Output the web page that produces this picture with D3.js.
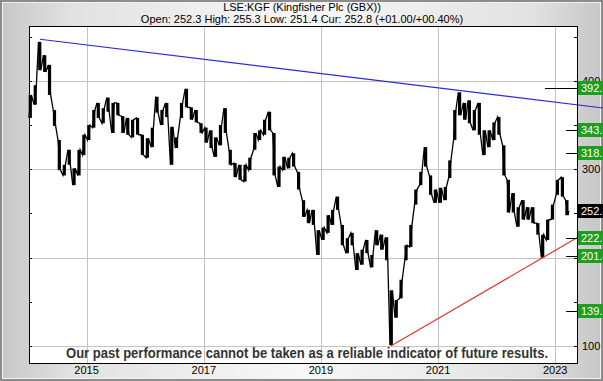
<!DOCTYPE html>
<html lang="en">
<head>
<meta charset="UTF-8">
<title>LSE:KGF (Kingfisher Plc (GBX))</title>
<script src="https://d3js.org/d3.v7.min.js"></script>
<style>
    body {
        margin: 0;
        padding: 0;
        overflow: hidden;
        background: #fff;
    }
    svg {
        display: block;
        font-family: "Liberation Sans", Arial, sans-serif;
    }
    .grid line {
        stroke: #c4c4c4;
        stroke-width: 1px;
        shape-rendering: crispEdges;
    }
    .lbl {
        font-size: 11px;
    }
</style>
</head>
<body>
<svg id="chart" width="603" height="381"></svg>
<script>
    // monthly high / low of the share price (GBX), first month Jan 2014
    var startMonth = '2014-01-15';
    var monthHigh = [384, 395, 444, 429, 418, 367, 333, 305, 322, 301, 322, 339,
                     350, 367, 375, 369, 381, 375, 375, 360, 358, 356, 358, 339,
                     335, 347, 382, 367, 375, 348, 336, 375, 391, 370, 367, 352,
                     347, 344, 336, 350, 369, 322, 307, 305, 305, 313, 341, 344,
                     356, 365, 341, 303, 314, 313, 318, 297, 265, 254, 254, 231,
                     234, 248, 254, 269, 237, 222, 228, 205, 209, 220, 203, 231,
                     226, 223, 163, 152, 175, 214, 237, 277, 297, 325, 293, 277,
                     279, 280, 310, 367, 387, 375, 378, 367, 375, 344, 344, 353,
                     359, 327, 288, 273, 257, 265, 257, 257, 239, 226, 243, 260,
                     288, 291, 265];
    var monthLow = [358, 373, 412, 410, 384, 349, 299, 293, 305, 282, 293, 316,
                    333, 347, 358, 352, 365, 341, 361, 341, 339, 336, 339, 316,
                    313, 325, 364, 350, 359, 305, 324, 358, 370, 356, 353, 341,
                    330, 324, 314, 327, 341, 305, 291, 288, 286, 299, 322, 333,
                    339, 344, 293, 280, 299, 301, 303, 277, 246, 239, 237, 203,
                    220, 228, 237, 254, 214, 205, 214, 186, 192, 205, 189, 214,
                    209, 197, 101, 132, 154, 197, 212, 260, 282, 303, 271, 262,
                    262, 265, 290, 333, 361, 356, 352, 344, 339, 316, 325, 333,
                    339, 293, 251, 251, 235, 243, 243, 239, 226, 200, 220, 243,
                    271, 269, 248];
    var lastDate = '2023-03-27';
    var lastClose = 252.8;

    var yearTicks = ['2015', '2017', '2019', '2021', '2023'];
    var valueTicks = [100, 200, 300, 400];
    var shownValueLabels = [100, 300, 400];
    var minorTicks = [100, 150, 200, 250, 300, 350, 400, 450];

    // price levels marked on the right hand side
    var levels = [392.1, 343.8, 318.1, 252.8, 222.5, 201.4, 139.1];
    var levelIsCurrent = [false, false, false, true, false, false, false];

    // trend lines: [date, value] anchors
    var resistance = [['2014-03-16', 447], ['2021-05-16', 389]];
    var support = [['2020-03-12', 100], ['2023-05-17', 222.5]];

    var title = 'LSE:KGF (Kingfisher Plc (GBX))';
    var subtitle = 'Open: 252.3 High: 255.3 Low: 251.4 Cur: 252.8 (+01.00/+00.40%)';
    var disclaimer = 'Our past performance cannot be taken as a reliable indicator of future results.';

    var W = 603, H = 381;
    var plot = { left: 29, right: 577, top: 26, bottom: 363 };
    var parse = d3.timeParse('%Y-%m-%d');

    var svg = d3.select('#chart');
    var defs = svg.append('defs');

    // silver frame
    var g1 = defs.append('linearGradient').attr('id', 'frameH').attr('x1', 0).attr('x2', 1).attr('y1', 0).attr('y2', 0);
    g1.append('stop').attr('offset', 0).attr('stop-color', '#c6c6c6');
    g1.append('stop').attr('offset', 0.12).attr('stop-color', '#e2e2e2');
    g1.append('stop').attr('offset', 0.5).attr('stop-color', '#f8f8f8');
    g1.append('stop').attr('offset', 0.88).attr('stop-color', '#e2e2e2');
    g1.append('stop').attr('offset', 1).attr('stop-color', '#c6c6c6');

    svg.append('rect').attr('x', 0).attr('y', 0).attr('width', W).attr('height', H)
        .attr('fill', 'url(#frameH)');
    svg.append('rect').attr('x', 1).attr('y', 1).attr('width', W - 2).attr('height', H - 2)
        .attr('fill', 'none').attr('stroke', '#8c8c8c').attr('stroke-width', 2);
    svg.append('rect').attr('x', 2.5).attr('y', 2.5).attr('width', W - 5).attr('height', H - 5)
        .attr('fill', 'none').attr('stroke', '#f2f2f2').attr('stroke-width', 1);

    // scales
    var x = d3.scaleTime()
        .domain([parse('2014-01-07'), parse('2023-05-17')])
        .range([plot.left, plot.right]);
    var y = d3.scaleLinear()
        .domain([80.8, 462])
        .range([plot.bottom, plot.top]);

    svg.append('rect')
        .attr('x', plot.left).attr('y', plot.top)
        .attr('width', plot.right - plot.left).attr('height', plot.bottom - plot.top)
        .attr('fill', '#fff');

    // grid
    var grid = svg.append('g').attr('class', 'grid');
    grid.selectAll('.vx').data(yearTicks).enter().append('line')
        .attr('x1', function(d) { return Math.round(x(parse(d + '-01-01'))) + 0.5; })
        .attr('x2', function(d) { return Math.round(x(parse(d + '-01-01'))) + 0.5; })
        .attr('y1', plot.top).attr('y2', plot.bottom);
    grid.selectAll('.hy').data(valueTicks).enter().append('line')
        .attr('x1', plot.left).attr('x2', plot.right)
        .attr('y1', function(d) { return Math.round(y(d)) + 0.5; })
        .attr('y2', function(d) { return Math.round(y(d)) + 0.5; });

    // price trace: monthly range strokes joined by a zigzag through high/low
    var months = monthHigh.map(function(d, i) { return d3.timeMonth.offset(parse(startMonth), i); });
    var bars = months.map(function(d, i) { return { date: d, hi: monthHigh[i], lo: monthLow[i] }; });

    var pts = [];
    bars.forEach(function(b, i) {
        var mid = (b.hi + b.lo) / 2;
        var next = i < bars.length - 1 ? (bars[i + 1].hi + bars[i + 1].lo) / 2 : lastClose;
        var up = next >= mid;
        pts.push([d3.timeDay.offset(b.date, -8), up ? b.lo : b.hi]);
        pts.push([d3.timeDay.offset(b.date, 7), up ? b.hi : b.lo]);
    });
    pts.push([parse(lastDate), lastClose]);

    var trace = svg.append('g');
    trace.selectAll('.rb').data(bars).enter().append('line')
        .attr('x1', function(d) { return x(d.date); })
        .attr('x2', function(d) { return x(d.date); })
        .attr('y1', function(d) { return y(d.hi); })
        .attr('y2', function(d) { return y(d.lo); })
        .attr('stroke', '#000')
        .attr('stroke-width', 3.2);

    var line = d3.line()
        .x(function(d) { return x(d[0]); })
        .y(function(d) { return y(d[1]); });
    trace.append('path').datum(pts)
        .attr('d', line)
        .attr('fill', 'none')
        .attr('stroke', '#000')
        .attr('stroke-width', 1.3)
        .attr('stroke-linejoin', 'miter');

    // trend lines
    var r0 = parse(resistance[0][0]), r1 = parse(resistance[1][0]);
    var rEnd = x.invert(W);
    var rEndVal = resistance[0][1] + (resistance[1][1] - resistance[0][1]) * (rEnd - r0) / (r1 - r0);
    svg.append('line')
        .attr('x1', x(r0)).attr('y1', y(resistance[0][1]))
        .attr('x2', x(rEnd)).attr('y2', y(rEndVal))
        .attr('stroke', '#2b2bd6').attr('stroke-width', 1.2);

    svg.append('line')
        .attr('x1', x(parse(support[0][0]))).attr('y1', y(support[0][1]))
        .attr('x2', x(parse(support[1][0]))).attr('y2', y(support[1][1]))
        .attr('stroke', '#e4362e').attr('stroke-width', 1.2);

    // plot border
    svg.append('rect')
        .attr('x', plot.left + 0.5).attr('y', plot.top + 0.5)
        .attr('width', plot.right - plot.left).attr('height', plot.bottom - plot.top)
        .attr('fill', 'none').attr('stroke', '#000').attr('stroke-width', 1)
        .attr('shape-rendering', 'crispEdges');

    // small inward ticks on both value axes
    svg.selectAll('.tl').data(minorTicks).enter().append('line')
        .attr('x1', plot.left).attr('x2', plot.left + 3)
        .attr('y1', function(d) { return Math.round(y(d)) + 0.5; })
        .attr('y2', function(d) { return Math.round(y(d)) + 0.5; })
        .attr('stroke', '#000');
    svg.selectAll('.tr').data(minorTicks).enter().append('line')
        .attr('x1', plot.right - 3).attr('x2', plot.right + 1)
        .attr('y1', function(d) { return Math.round(y(d)) + 0.5; })
        .attr('y2', function(d) { return Math.round(y(d)) + 0.5; })
        .attr('stroke', '#000');

    // value axis labels (200 sits under the 201.4 tag in the original)
    svg.selectAll('.vl').data(shownValueLabels).enter().append('text')
        .attr('class', 'lbl')
        .attr('x', plot.right + 5)
        .attr('y', function(d) { return y(d) + 4; })
        .text(function(d) { return d; });

    // year labels
    svg.selectAll('.yl').data(yearTicks).enter().append('text')
        .attr('class', 'lbl')
        .attr('text-anchor', 'middle')
        .attr('x', function(d) { return x(parse(d + '-01-01')); })
        .attr('y', 374)
        .text(function(d) { return d; });

    // level markers
    svg.selectAll('.lv').data(levels).enter().filter(function(d, i) { return !levelIsCurrent[i]; })
        .append('line')
        .attr('x1', function(d) { return d === levels[0] ? 545 : 566; })
        .attr('x2', plot.right)
        .attr('y1', function(d) { return Math.round(y(d)) + 0.5; })
        .attr('y2', function(d) { return Math.round(y(d)) + 0.5; })
        .attr('stroke', '#000');

    var tags = svg.selectAll('.tag').data(levels).enter().append('g')
        .attr('transform', function(d) { return 'translate(' + (plot.right + 1) + ',' + Math.round(y(d)) + ')'; });
    tags.append('rect')
        .attr('x', 0).attr('y', -7).attr('width', W - plot.right - 1).attr('height', 14)
        .attr('fill', function(d, i) { return levelIsCurrent[i] ? '#000' : '#1e9e1e'; });
    tags.append('text')
        .attr('class', 'lbl')
        .attr('x', 3).attr('y', 4)
        .attr('fill', '#fff')
        .text(function(d) { return d.toFixed(1); });

    // titles
    svg.append('text').attr('class', 'lbl').attr('text-anchor', 'middle')
        .attr('x', 302).attr('y', 11).text(title);
    svg.append('text').attr('class', 'lbl').attr('text-anchor', 'middle')
        .attr('x', 302).attr('y', 23).text(subtitle);

    svg.append('text')
        .attr('x', 307).attr('y', 358)
        .attr('text-anchor', 'middle')
        .attr('font-family', '"Liberation Sans Narrow", "Arial Narrow", "Liberation Sans", Arial, sans-serif')
        .attr('font-weight', 'bold')
        .attr('font-size', '15.5px')
        .attr('fill', '#333')
        .attr('textLength', 482)
        .attr('lengthAdjust', 'spacingAndGlyphs')
        .text(disclaimer);
</script>
</body>
</html>
